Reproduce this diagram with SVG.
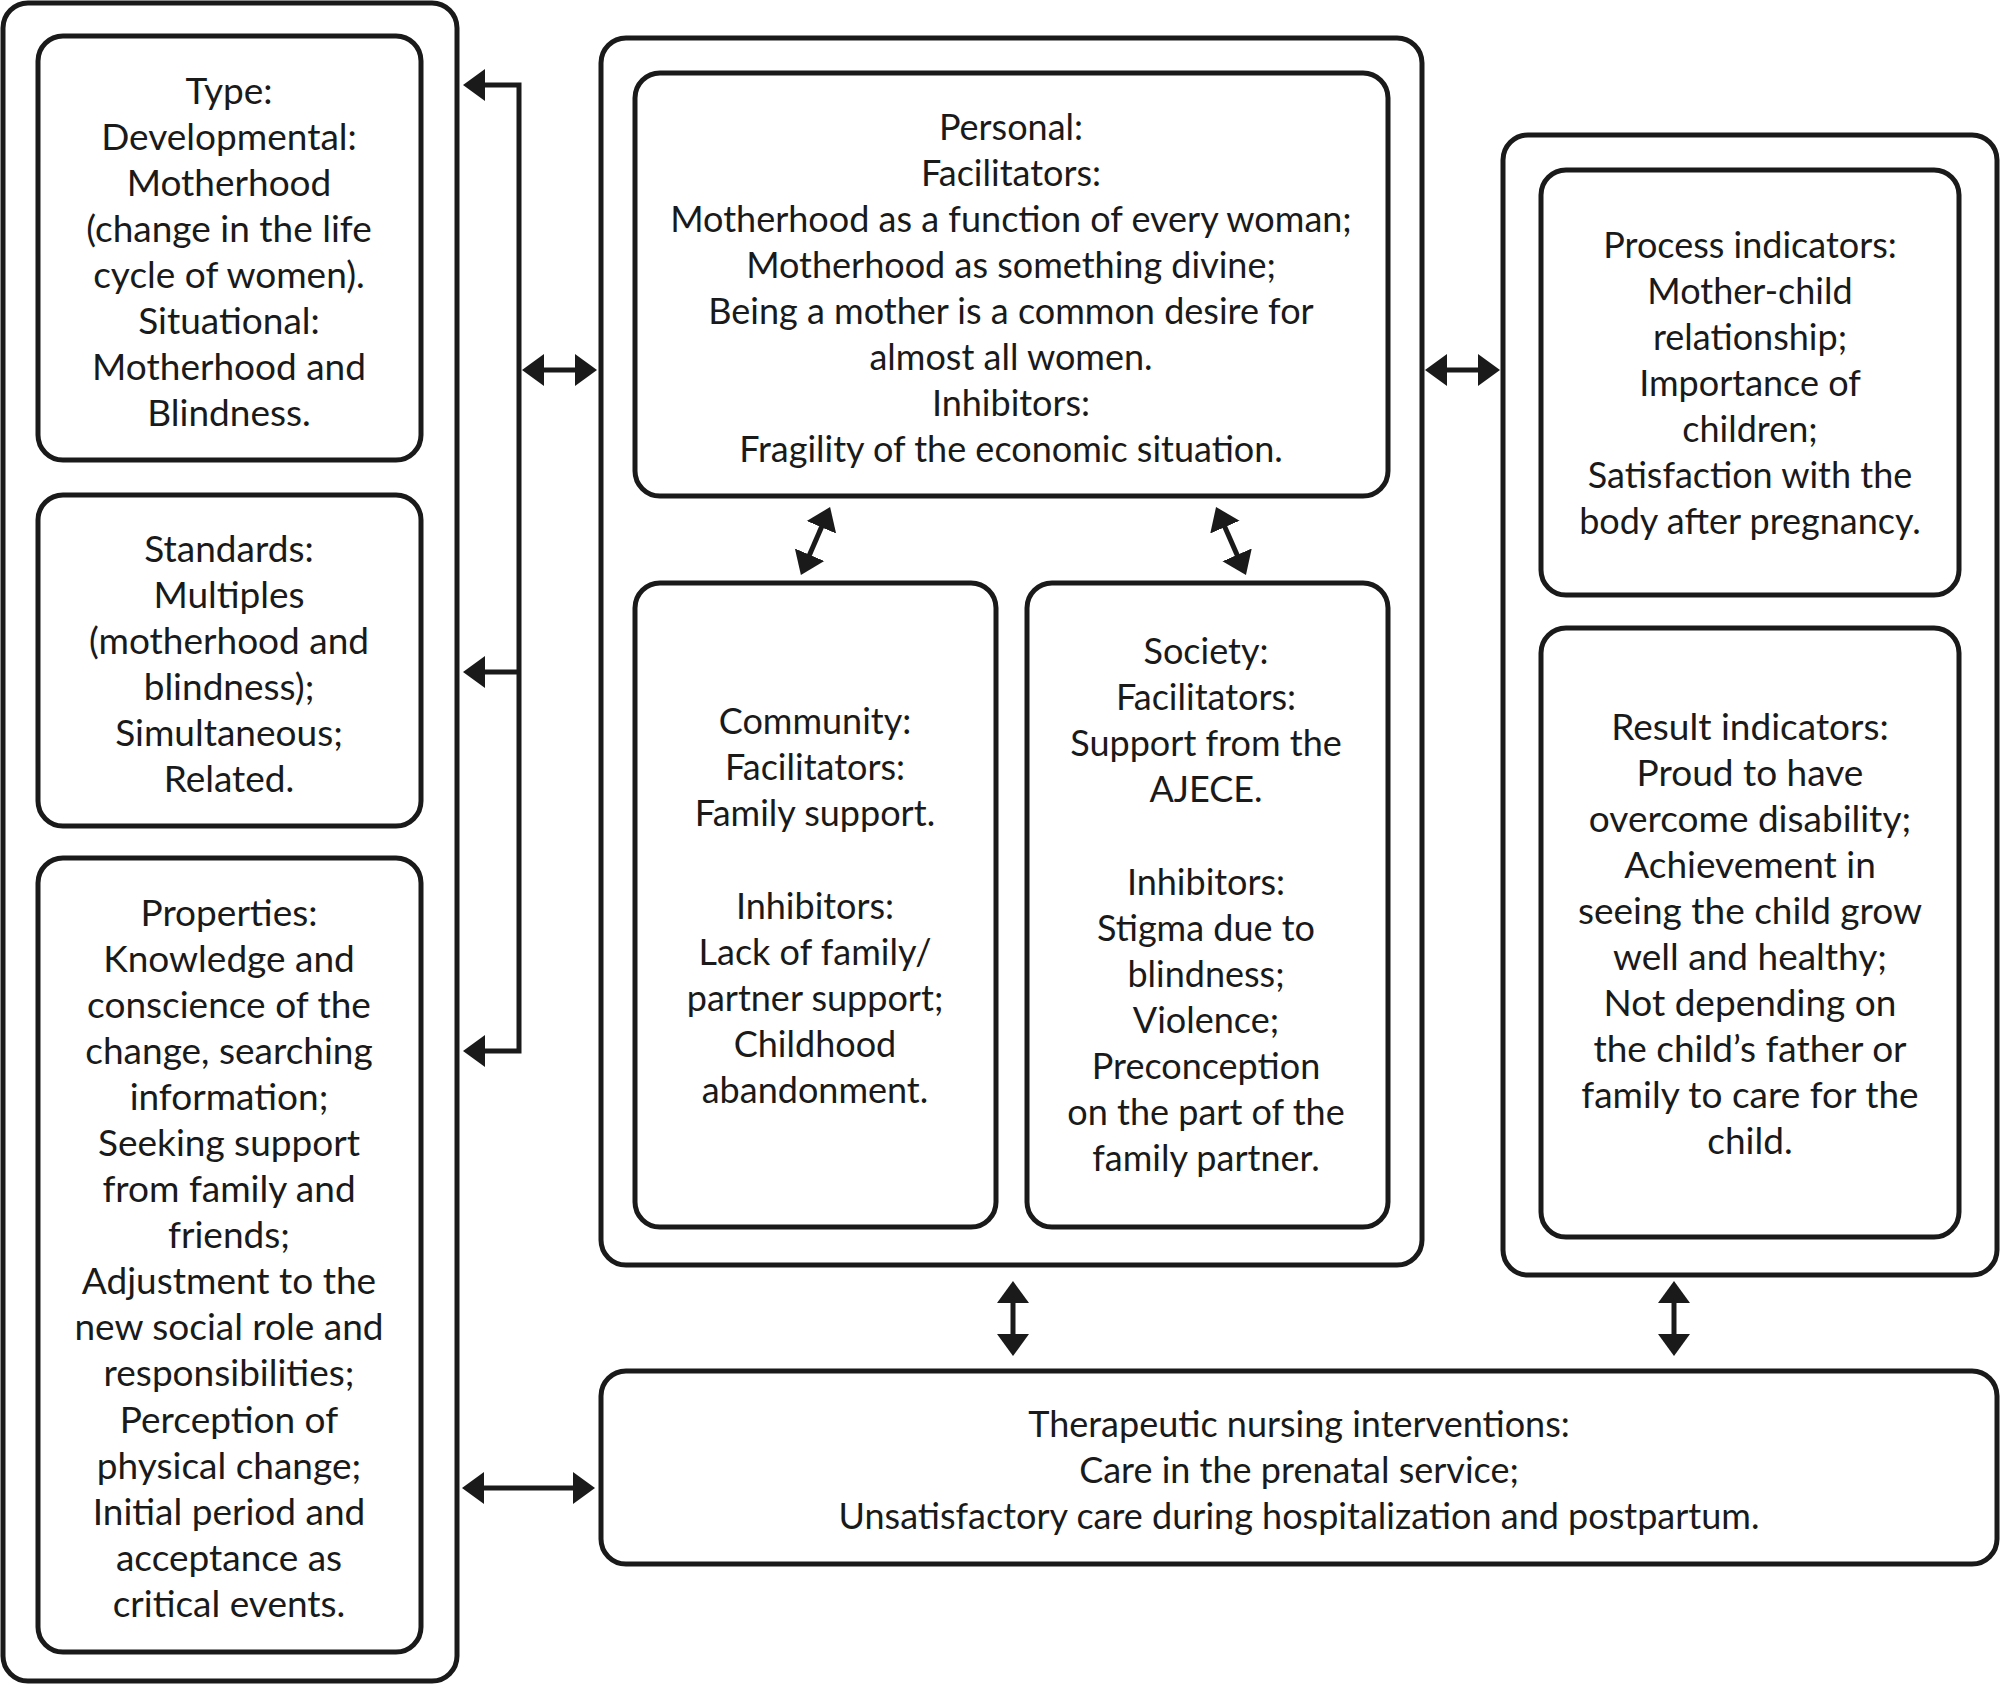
<svg xmlns="http://www.w3.org/2000/svg" width="2000" height="1684" viewBox="0 0 2000 1684">
<style>
.box{fill:none;stroke:#1a1a1a;stroke-width:5}
.outer{fill:#fff;stroke:#1a1a1a;stroke-width:5}
text{font-family:Lato,"Open Sans","Liberation Sans",sans-serif;font-size:36px;fill:#1a1a1a;text-anchor:middle}
.wide text{font-size:37px}
.con{fill:none;stroke:#1a1a1a;stroke-width:5}
.dbl{marker-start:url(#ah);marker-end:url(#ah)}
</style>
<defs>
<marker id="ah" markerUnits="userSpaceOnUse" markerWidth="24" markerHeight="34" refX="2" refY="16" orient="auto-start-reverse" viewBox="0 0 24 32">
<path d="M0,0 L22,16 L0,32 z" fill="#1a1a1a"/>
</marker>
</defs>
<rect width="2000" height="1684" fill="#fff"/>

<g id="left-panel">
<rect class="outer" x="3" y="3" width="454" height="1678" rx="25"/>
</g>
<g id="type" class="wide">
<rect class="box" x="38" y="36" width="383" height="424" rx="25"/>
<text x="229" y="104">Type:</text>
<text x="229" y="150">Developmental:</text>
<text x="229" y="196">Motherhood</text>
<text x="229" y="242">(change in the life</text>
<text x="229" y="288">cycle of women).</text>
<text x="229" y="334">Situational:</text>
<text x="229" y="380">Motherhood and</text>
<text x="229" y="426">Blindness.</text>
</g>
<g id="standards" class="wide">
<rect class="box" x="38" y="495" width="383" height="331" rx="25"/>
<text x="229" y="562">Standards:</text>
<text x="229" y="608">Multiples</text>
<text x="229" y="654">(motherhood and</text>
<text x="229" y="700">blindness);</text>
<text x="229" y="746">Simultaneous;</text>
<text x="229" y="792">Related.</text>
</g>
<g id="properties" class="wide">
<rect class="box" x="38" y="858" width="383" height="794" rx="25"/>
<text x="229" y="926">Properties:</text>
<text x="229" y="972">Knowledge and</text>
<text x="229" y="1018">conscience of the</text>
<text x="229" y="1064">change, searching</text>
<text x="229" y="1110">information;</text>
<text x="229" y="1156">Seeking support</text>
<text x="229" y="1202">from family and</text>
<text x="229" y="1248">friends;</text>
<text x="229" y="1294">Adjustment to the</text>
<text x="229" y="1340">new social role and</text>
<text x="229" y="1386">responsibilities;</text>
<text x="229" y="1433">Perception of</text>
<text x="229" y="1479">physical change;</text>
<text x="229" y="1525">Initial period and</text>
<text x="229" y="1571">acceptance as</text>
<text x="229" y="1617">critical events.</text>
</g>

<g id="middle-panel">
<rect class="outer" x="601" y="38" width="821" height="1227" rx="25"/>
</g>
<g id="personal">
<rect class="box" x="635" y="73" width="753" height="423" rx="25"/>
<text x="1011" y="140">Personal:</text>
<text x="1011" y="186">Facilitators:</text>
<text x="1011" y="232">Motherhood as a function of every woman;</text>
<text x="1011" y="278">Motherhood as something divine;</text>
<text x="1011" y="324">Being a mother is a common desire for</text>
<text x="1011" y="370">almost all women.</text>
<text x="1011" y="416">Inhibitors:</text>
<text x="1011" y="462">Fragility of the economic situation.</text>
</g>
<g id="community">
<rect class="box" x="635" y="583" width="361" height="644" rx="25"/>
<text x="815" y="734">Community:</text>
<text x="815" y="780">Facilitators:</text>
<text x="815" y="826">Family support.</text>
<text x="815" y="919">Inhibitors:</text>
<text x="815" y="965">Lack of family/</text>
<text x="815" y="1011">partner support;</text>
<text x="815" y="1057">Childhood</text>
<text x="815" y="1103">abandonment.</text>
</g>
<g id="society">
<rect class="box" x="1027" y="583" width="361" height="644" rx="25"/>
<text x="1206" y="664">Society:</text>
<text x="1206" y="710">Facilitators:</text>
<text x="1206" y="756">Support from the</text>
<text x="1206" y="802">AJECE.</text>
<text x="1206" y="895">Inhibitors:</text>
<text x="1206" y="941">Stigma due to</text>
<text x="1206" y="987">blindness;</text>
<text x="1206" y="1033">Violence;</text>
<text x="1206" y="1079">Preconception</text>
<text x="1206" y="1125">on the part of the</text>
<text x="1206" y="1171">family partner.</text>
</g>

<g id="right-panel">
<rect class="outer" x="1503" y="135" width="494" height="1140" rx="25"/>
</g>
<g id="process">
<rect class="box" x="1541" y="170" width="418" height="425" rx="25"/>
<text x="1750" y="258">Process indicators:</text>
<text x="1750" y="304">Mother-child</text>
<text x="1750" y="350">relationship;</text>
<text x="1750" y="396">Importance of</text>
<text x="1750" y="442">children;</text>
<text x="1750" y="488">Satisfaction with the</text>
<text x="1750" y="534">body after pregnancy.</text>
</g>
<g id="result" class="wide">
<rect class="box" x="1541" y="628" width="418" height="609" rx="25"/>
<text x="1750" y="740">Result indicators:</text>
<text x="1750" y="786">Proud to have</text>
<text x="1750" y="832">overcome disability;</text>
<text x="1750" y="878">Achievement in</text>
<text x="1750" y="924">seeing the child grow</text>
<text x="1750" y="970">well and healthy;</text>
<text x="1750" y="1016">Not depending on</text>
<text x="1750" y="1062">the child’s father or</text>
<text x="1750" y="1108">family to care for the</text>
<text x="1750" y="1154">child.</text>
</g>

<g id="nursing">
<rect class="outer" x="601" y="1371" width="1396" height="193" rx="25"/>
<text x="1299" y="1437">Therapeutic nursing interventions:</text>
<text x="1299" y="1483">Care in the prenatal service;</text>
<text x="1299" y="1529">Unsatisfactory care during hospitalization and postpartum.</text>
</g>

<g id="connectors">
<path class="con dbl" d="M483,85 H519 V1051 H483"/>
<path class="con" d="M519,672 H483" marker-end="url(#ah)"/>
<path class="con dbl" d="M542,370 H577"/>
<path class="con dbl" d="M1445,370 H1480"/>
<path class="con dbl" d="M482,1488 H575"/>
<path class="con dbl" d="M822.2,525.4 L808.8,556.6"/>
<path class="con dbl" d="M1224.1,525.3 L1237.9,556.7"/>
<path class="con dbl" d="M1013,1301 V1336"/>
<path class="con dbl" d="M1674,1301 V1336"/>
</g>
</svg>
